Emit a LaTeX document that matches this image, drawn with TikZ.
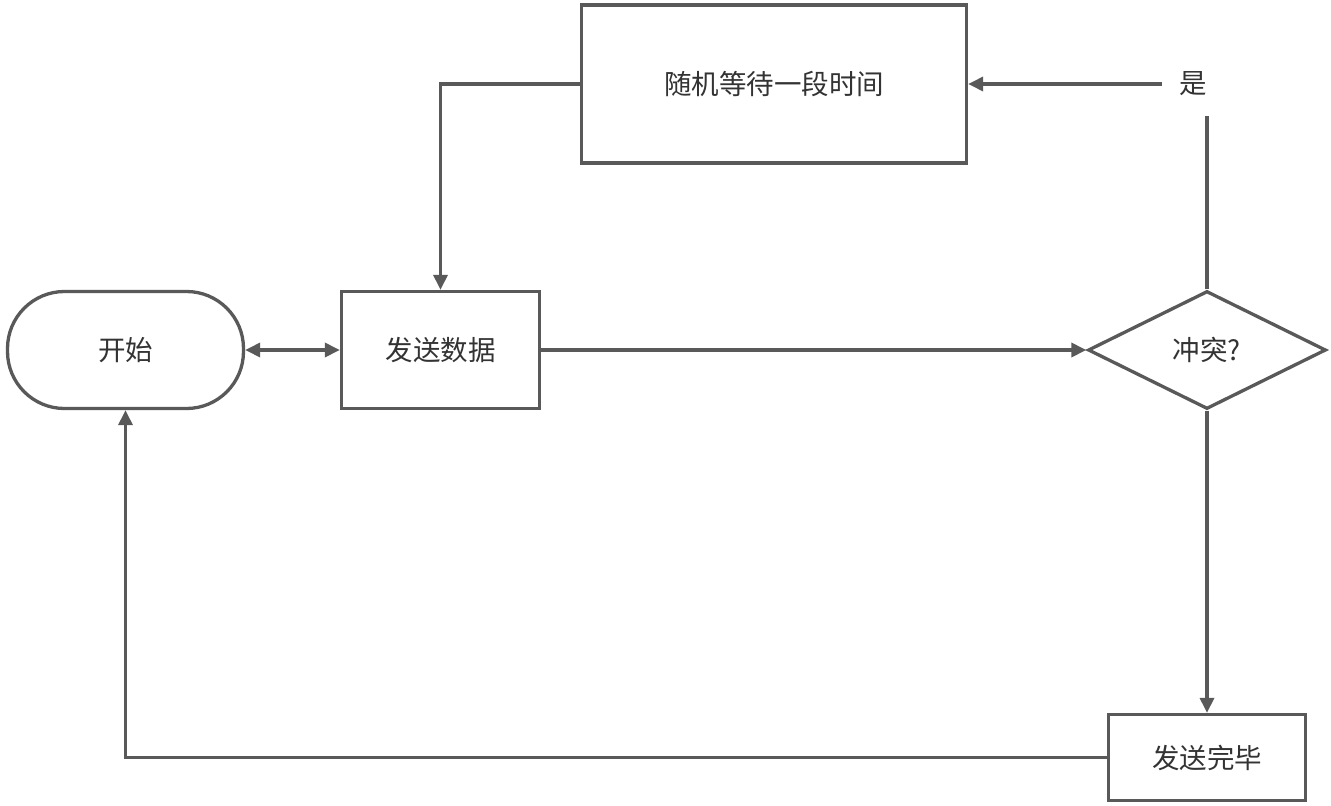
\documentclass[tikz,border=0pt]{standalone}
\usepackage{fontspec}
\setmainfont{Noto Sans CJK SC}
\usetikzlibrary{shapes.geometric,arrows.meta}
\definecolor{ln}{HTML}{595959}
\definecolor{tx}{HTML}{333333}
\begin{document}
\begin{tikzpicture}[x=1pt,y=-1pt,
  base/.style={draw=ln,line width=3.3pt,fill=white,inner sep=0pt,text=tx,font=\fontsize{27.5}{32}\selectfont},
  box/.style={base,rectangle},
  term/.style={base,rectangle,rounded corners=57pt},
  dec/.style={base,diamond},
  conn/.style={draw=ln,line width=3.3pt,-{Triangle[length=15pt,width=14pt]}},
  plain/.style={draw=ln,line width=3.3pt}]
\useasboundingbox (0,0) rectangle (1331,806);
\node[term,minimum width=236pt,minimum height=117pt] (start) at (125.5,350) {开始};
\node[box,minimum width=198pt,minimum height=117pt] (send) at (440.5,350) {发送数据};
\node[box,minimum width=385pt,minimum height=158pt] (wait) at (774,84) {随机等待一段时间};
\node[dec,minimum width=238pt,minimum height=118pt] (dia) at (1207,350) {冲突?};
\node[box,minimum width=197pt,minimum height=86pt] (done) at (1207,757.5) {发送完毕};
\node[text=tx,font=\fontsize{27.5}{32}\selectfont,inner sep=0pt] (yes) at (1193,84) {是};
\coordinate (yb) at (1207,116);
\coordinate (yl) at (1162,84);
\draw[draw=ln,line width=3.3pt,{Triangle[length=15pt,width=14pt]}-{Triangle[length=15pt,width=14pt]}] (start.east) -- (send.west);
\draw[conn] (send.east) -- (dia.west);
\draw[plain] (dia.north) -- (yb);
\draw[conn] (yl) -- (wait.east);
\draw[conn] (dia.south) -- (done.north);
\draw[conn] (done.west) -| (start.south);
\draw[conn] (wait.west) -| (send.north);
\end{tikzpicture}
\end{document}
